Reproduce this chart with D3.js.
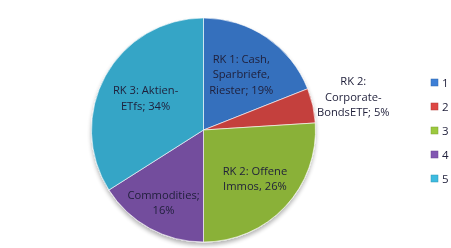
<!DOCTYPE html>
<html>
<head>
<meta charset="utf-8">
<script src="https://cdn.jsdelivr.net/npm/d3@7"></script>
<style>
  body { margin: 0; background: #fff; }
  text { font-family: "Open Sans", "Noto Sans", sans-serif; fill: #1f1f3a; }
</style>
</head>
<body>
<div id="chart"></div>
<script>
// chart data
var categories = ["1", "2", "3", "4", "5"];
var values = [19, 5, 26, 16, 34];
var sliceLabels = [
    ["RK 1: Cash,", "Sparbriefe,", "Riester; 19%"],
    ["RK 2:", "Corporate-", "BondsETF; 5%"],
    ["RK 2: Offene", "Immos, 26%"],
    ["Commodities;", "16%"],
    ["RK 3: Aktien-", "ETfs; 34%"]
];
var colors = ["#3d7fd6", "#de4744", "#9cc93e", "#8257b2", "#3dbbe0"];

var svgWidth = 451;
var svgHeight = 248;
var cx = 203.5, cy = 130, radius = 112;

var svg = d3.select("#chart")
    .append("svg")
    .attr("width", svgWidth)
    .attr("height", svgHeight);

var defs = svg.append("defs");

// shaded edge for each slice
colors.forEach(function(c, i) {
    var g = defs.append("radialGradient")
        .attr("id", "grad" + i)
        .attr("gradientUnits", "userSpaceOnUse")
        .attr("cx", cx).attr("cy", cy).attr("r", radius);
    g.append("stop").attr("offset", "0%").attr("stop-color", c);
    g.append("stop").attr("offset", "93%").attr("stop-color", c);
    g.append("stop").attr("offset", "100%").attr("stop-color", d3.color(c).darker(0.35));
});

var shadow = defs.append("filter").attr("id", "shadow")
    .attr("x", "-10%").attr("y", "-10%").attr("width", "120%").attr("height", "125%");
shadow.append("feGaussianBlur").attr("in", "SourceAlpha").attr("stdDeviation", 2);
shadow.append("feOffset").attr("dy", 3).attr("result", "blur");
shadow.append("feComponentTransfer").append("feFuncA").attr("type", "linear").attr("slope", 0.3);
var merge = shadow.append("feMerge");
merge.append("feMergeNode");
merge.append("feMergeNode").attr("in", "SourceGraphic");

var pie = d3.pie().sort(null).value(d => d);
var arcs = pie(values);

var arc = d3.arc().innerRadius(0).outerRadius(radius);

// gradients are in user space, so each path is moved to the centre itself
var pieGroup = svg.append("g")
    .attr("filter", "url(#shadow)");

pieGroup.selectAll("path")
    .data(arcs)
    .enter()
    .append("path")
    .attr("d", arc)
    .attr("transform", `translate(${cx}, ${cy})`)
    .attr("fill", (d, i) => `url(#grad${i})`)
    .attr("stroke", "#ffffff")
    .attr("stroke-opacity", 0.6)
    .attr("stroke-width", 1);

// label distance from centre, as part of the radius
var labelFactor = [0.6, 1.37, 0.63, 0.74, 0.59];
var lineH = 15.5;

var labels = svg.append("g").attr("transform", `translate(${cx}, ${cy})`);
arcs.forEach(function(d, i) {
    var r = radius * labelFactor[i];
    var p = d3.arc().innerRadius(r).outerRadius(r).centroid(d);
    var lines = sliceLabels[i];
    var t = labels.append("text")
        .attr("text-anchor", "middle")
        .attr("font-size", "11.2px");
    lines.forEach(function(l, j) {
        t.append("tspan")
            .attr("x", p[0])
            .attr("y", p[1] + (j - (lines.length - 1) / 2) * lineH + 4)
            .text(l);
    });
});

// legend
var legend = svg.append("g").attr("transform", "translate(431, 83)");
var items = legend.selectAll("g")
    .data(categories)
    .enter()
    .append("g")
    .attr("transform", (d, i) => `translate(0, ${i * 24})`);

items.append("rect")
    .attr("x", 0).attr("y", -4)
    .attr("width", 7).attr("height", 7)
    .attr("fill", (d, i) => colors[i])
    .attr("stroke", (d, i) => d3.color(colors[i]).darker(0.6))
    .attr("stroke-width", 0.5);

items.append("text")
    .attr("x", 11)
    .attr("y", 4)
    .attr("font-size", "11.5px")
    .text(d => d);
</script>
</body>
</html>
